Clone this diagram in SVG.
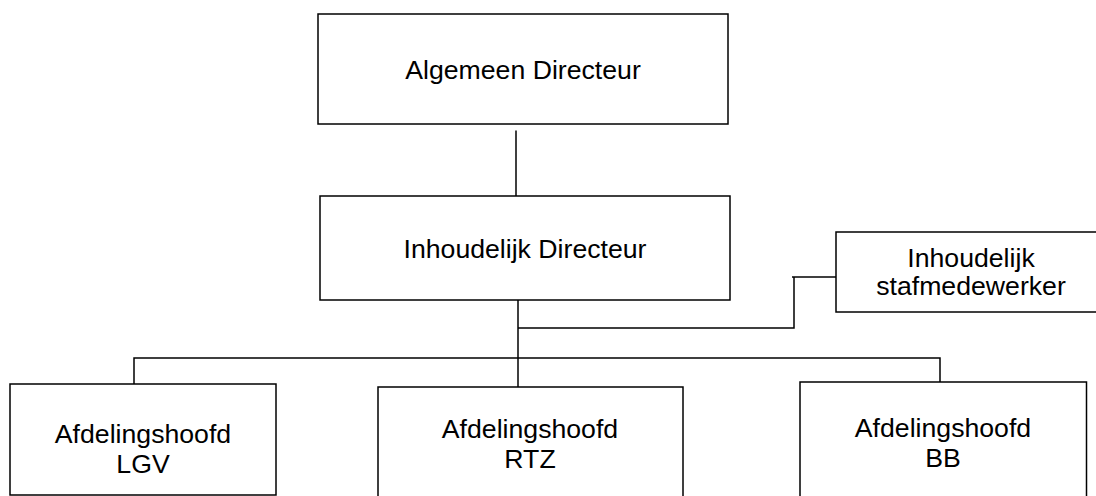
<svg xmlns="http://www.w3.org/2000/svg" width="1096" height="496" viewBox="0 0 1096 496">
<style>
.box{fill:#fff;stroke:#000;stroke-width:1.5}
.ln{fill:none;stroke:#000;stroke-width:1.5}
text{font-family:"Liberation Sans",Arial,sans-serif;font-size:26.67px;fill:#000;text-anchor:middle}
</style>
<rect width="1096" height="496" fill="#fff"/>
<g id="connectors">
<line class="ln" x1="516" y1="130.5" x2="516" y2="196"/>
<line class="ln" x1="518" y1="300" x2="518" y2="387"/>
<polyline class="ln" points="518,328 794,328 794,277"/>
<line class="ln" x1="792" y1="277" x2="836" y2="277"/>
<polyline class="ln" points="134,384 134,358 940,358 940,382"/>
</g>
<g id="algemeen-directeur">
<rect class="box" x="318" y="14" width="410" height="110"/>
<text x="523" y="79">Algemeen Directeur</text>
</g>
<g id="inhoudelijk-directeur">
<rect class="box" x="320" y="196" width="410" height="104"/>
<text x="525" y="257.5">Inhoudelijk Directeur</text>
</g>
<g id="inhoudelijk-stafmedewerker">
<rect class="box" x="836" y="232" width="270" height="80"/>
<text x="971" y="267">Inhoudelijk</text>
<text x="971" y="295">stafmedewerker</text>
</g>
<g id="afdelingshoofd-lgv">
<rect class="box" x="10" y="384" width="266" height="111"/>
<text x="143" y="442.5">Afdelingshoofd</text>
<text x="143" y="473">LGV</text>
</g>
<g id="afdelingshoofd-rtz">
<rect class="box" x="378" y="387" width="305" height="112"/>
<text x="530" y="437.5">Afdelingshoofd</text>
<text x="530" y="467.5">RTZ</text>
</g>
<g id="afdelingshoofd-bb">
<rect class="box" x="800" y="382" width="286.5" height="117"/>
<text x="943" y="436.5">Afdelingshoofd</text>
<text x="943" y="466.5">BB</text>
</g>
</svg>
